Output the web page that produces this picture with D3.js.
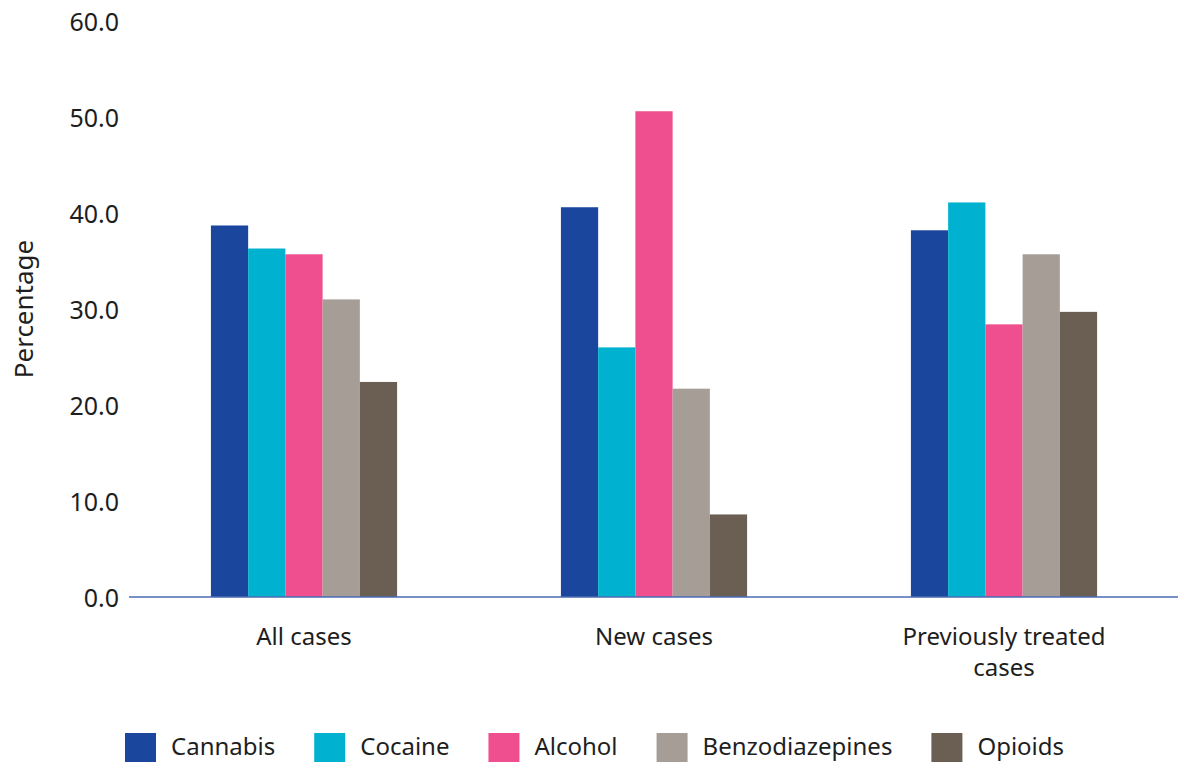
<!DOCTYPE html>
<html>
<head>
<meta charset="utf-8">
<script src="https://cdn.jsdelivr.net/npm/d3@7"></script>
<style>
  body { margin: 0; background: #fff; }
  svg text { font-family: "Noto Sans", Lato, sans-serif; fill: #1e1e1e; }
</style>
</head>
<body>
<div id="chart-area"></div>
<script>
// data
const groups = ['All cases', 'New cases', 'Previously treated cases'];
const drugs = ['Cannabis', 'Cocaine', 'Alcohol', 'Benzodiazepines', 'Opioids'];
const cannabis = [38.7, 40.6, 38.2];
const cocaine = [36.3, 26.0, 41.1];
const alcohol = [35.7, 50.6, 28.4];
const benzos = [31.0, 21.7, 35.7];
const opioids = [22.4, 8.6, 29.7];
const yTicks = [0, 10, 20, 30, 40, 50, 60];
const colours = ['#1a479d', '#00b2cf', '#ef4f8e', '#a69d96', '#6b5f53'];

const seriesVals = [cannabis, cocaine, alcohol, benzos, opioids];

const W = 1178, H = 762;

const svg = d3.select('#chart-area').append('svg')
    .attr('width', W)
    .attr('height', H);

// scales
const x0 = d3.scaleBand()
    .domain(groups)
    .range([129, 1179])
    .paddingInner(0)
    .paddingOuter(0);

const x1 = d3.scaleBand()
    .domain(drugs)
    .range([0, x0.bandwidth()])
    .paddingInner(0)
    .paddingOuter(2.2);

const y = d3.scaleLinear()
    .domain([0, 60])
    .range([597, 21]);

const colour = d3.scaleOrdinal().domain(drugs).range(colours);

// y tick labels (no axis line)
const yAxis = svg.append('g')
    .attr('transform', 'translate(119,0)')
    .call(d3.axisLeft(y).tickValues(yTicks).tickSize(0).tickPadding(0).tickFormat(d3.format('.1f')));
yAxis.select('.domain').remove();
yAxis.selectAll('text')
    .attr('font-size', '25px')
    .attr('dy', '0.36em')
    .style('font-family', '"Noto Sans", sans-serif')
    .attr('fill', '#1e1e1e');

// y label
svg.append('text')
    .attr('transform', 'translate(33,309) rotate(-90)')
    .attr('text-anchor', 'middle')
    .attr('font-size', '26px')
    .text('Percentage');

// bars
const rows = groups.map((g, i) => ({ group: g, vals: drugs.map((d, j) => ({ drug: d, value: seriesVals[j][i] })) }));

const gGroups = svg.selectAll('g.grp')
    .data(rows)
    .enter().append('g')
    .attr('class', 'grp')
    .attr('transform', d => 'translate(' + x0(d.group) + ',0)');

gGroups.selectAll('rect')
    .data(d => d.vals)
    .enter().append('rect')
    .attr('x', d => x1(d.drug))
    .attr('y', d => y(d.value))
    .attr('width', x1.bandwidth())
    .attr('height', d => y(0) - y(d.value))
    .attr('fill', d => colour(d.drug));

// x axis line
svg.append('line')
    .attr('x1', 129).attr('x2', 1178)
    .attr('y1', y(0)).attr('y2', y(0))
    .attr('stroke', '#4a6bb5')
    .attr('stroke-width', 1.5);

// category labels, the long one wraps
const catLines = { 'Previously treated cases': ['Previously treated', 'cases'] };
groups.forEach(g => {
    const lines = catLines[g] || [g];
    const t = svg.append('text')
        .attr('text-anchor', 'middle')
        .attr('font-size', '24px');
    lines.forEach((l, i) => {
        t.append('tspan')
            .attr('x', x0(g) + x0.bandwidth() / 2)
            .attr('y', 645 + i * 31)
            .text(l);
    });
});

// legend
const legend = svg.append('g');
let lx = 125;
drugs.forEach(d => {
    legend.append('rect')
        .attr('x', lx).attr('y', 733)
        .attr('width', 31).attr('height', 30)
        .attr('fill', colour(d));
    const t = legend.append('text')
        .attr('x', lx + 46)
        .attr('y', 755)
        .attr('font-size', '24px')
        .text(d);
    lx += 46 + t.node().getComputedTextLength() + 39;
});
</script>
</body>
</html>
